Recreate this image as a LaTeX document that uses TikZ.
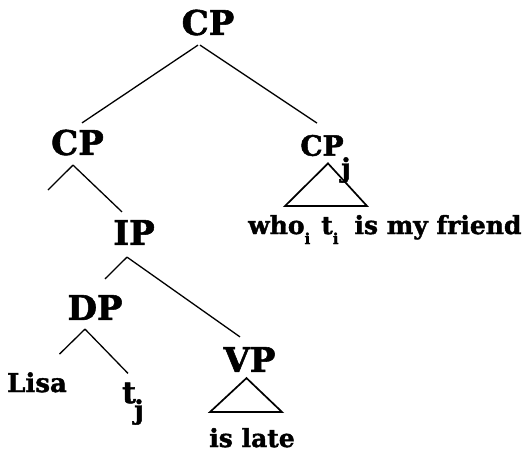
\documentclass[tikz,border=0pt]{standalone}
\usepackage{fontspec}
\setmainfont{DejaVu Serif}
\newfontfamily\heavyfont{DejaVu Serif Bold}[FakeBold=1.6]
\begin{document}
\begin{tikzpicture}[x=1pt,y=-1pt,
  lab/.style={font=\heavyfont\fontsize{34}{34}\selectfont, inner sep=0pt, text height=24.8pt, text depth=0pt},
  labs/.style={font=\heavyfont\fontsize{28}{28}\selectfont, inner sep=0pt, text height=20.4pt, text depth=0pt},
  word/.style={font=\heavyfont\fontsize{#1}{#1}\selectfont, inner sep=0pt},
  edge/.style={line width=1.3pt},
  tri/.style={line width=1.7pt, line join=miter}]
\useasboundingbox (0,0) rectangle (529,453);
% labels
\node[lab] (cp0) at (208,22.5) {CP};
\node[lab] (cp1) at (77.5,142.5) {CP};
\node[labs] (cp2) at (322,145.5) {CP};
\node[word=26, anchor=base] (cp2j) at (346,177) {j};
\node[lab] (ip) at (134,232.5) {IP};
\node[lab] (dp) at (95,307.5) {DP};
\node[lab] (vp) at (249.5,359.5) {VP};
\node[word=26, anchor=base west] (lisa) at (7,392) {Lisa};
\node[word=30, anchor=base] (t) at (129,403) {t};
\node[word=26, anchor=base] (tj) at (139,419) {j};
\node[word=25, anchor=base] (late) at (252,447) {is late};
\node[word=25, anchor=base west] (who) at (248,234)
  {who\raisebox{-10pt}{\fontsize{15}{15}\selectfont i}\hspace{11pt}t\raisebox{-10pt}{\fontsize{15}{15}\selectfont i}\hspace{16pt}is my friend};
% free ends and triangle corners
\coordinate (cp1l) at (48,190);
\coordinate (cp2bl) at (285,206);
\coordinate (cp2br) at (367,206);
\coordinate (vpbl) at (210,412);
\coordinate (vpbr) at (282,412);
% branches
\draw[edge] ([xshift=-10pt,yshift=-10pt]cp0.south) -- ([xshift=4.5pt,yshift=7pt]cp1.north);
\draw[edge] ([xshift=-8pt,yshift=-10pt]cp0.south) -- ([xshift=-5pt,yshift=12pt]cp2.north);
\draw[edge] ([xshift=-4.5pt,yshift=-10pt]cp1.south) -- (cp1l);
\draw[edge] ([xshift=-4.5pt,yshift=-10pt]cp1.south) -- ([xshift=-12pt,yshift=8pt]ip.north);
\draw[edge] ([xshift=-7pt,yshift=-12pt]ip.south) -- ([xshift=10pt,yshift=16pt]dp.north);
\draw[edge] ([xshift=-7pt,yshift=-12pt]ip.south) -- ([xshift=-9.5pt,yshift=10pt]vp.north);
\draw[edge] ([xshift=-10pt,yshift=-9pt]dp.south) -- ([xshift=22.5pt,yshift=18pt]lisa.north);
\draw[edge] ([xshift=-10pt,yshift=-9pt]dp.south) -- ([xshift=-1pt,yshift=9pt]t.north);
% triangles
\draw[tri] ([xshift=6pt,yshift=-7.5pt]cp2.south) -- (cp2bl) -- (cp2br) -- cycle;
\draw[tri] ([xshift=-3pt,yshift=-6pt]vp.south) -- (vpbl) -- (vpbr) -- cycle;
\end{tikzpicture}
\end{document}
